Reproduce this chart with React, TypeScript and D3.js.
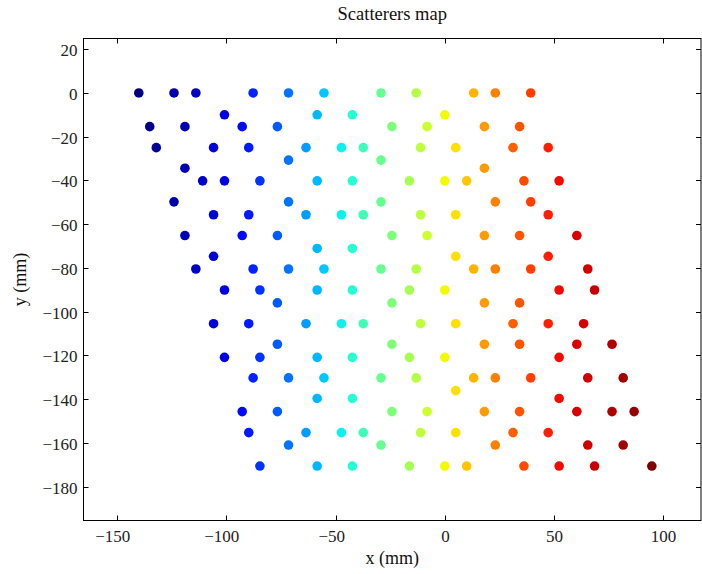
import React from "react";
import * as d3 from "d3";

// ---- data ----
const ROW_Y: number[] = [0, -10, -15.4, -25, -30.7, -34.4, -40.2, -49.8, -55.7, -65.2, -71.1, -74.7, -80.5, -90.1, -96, -105.5, -114.9, -120.9, -130.3, -136.1, -139.7, -145.7, -155.3, -161, -170.6];
const ROW_X: number[][] = [
  [-140, -123.9, -113.9, -87.7, -71.5, -55.3, -29.2, -13.1, 13.2, 23.1, 39.3],
  [-100.8, -58.4, -42.3, 0],
  [-135, -118.9, -92.7, -76.6, -24.2, -8.1, 18.1, 34.2],
  [-132, -105.8, -89.7, -63.5, -47.3, -37.3, -11.1, 5.0, 31.2, 47.3],
  [-71.5, -29.2],
  [-118.9, 18.1],
  [-110.8, -100.8, -84.6, -58.4, -42.3, -16.2, 0, 10.0, 36.2, 52.3],
  [-123.9, -71.5, -29.2, 23.1, 39.3],
  [-105.8, -89.7, -63.5, -47.3, -37.3, -11.1, 5.0, 47.3],
  [-118.9, -92.7, -76.6, -24.2, -8.1, 18.1, 34.2, 60.4],
  [-58.4, -42.3],
  [-105.8, 5.0, 47.3],
  [-113.9, -87.7, -71.5, -55.3, -29.2, -13.1, 13.2, 23.1, 39.3, 65.4],
  [-100.8, -84.6, -58.4, -42.3, -16.2, 0, 52.3, 68.5],
  [-76.6, -24.2, 18.1, 34.2],
  [-105.8, -89.7, -63.5, -47.3, -37.3, -11.1, 5.0, 31.2, 47.3, 63.5],
  [-76.6, -24.2, 18.1, 34.2, 60.4, 76.5],
  [-100.8, -84.6, -58.4, -42.3, -16.2, 0, 52.3],
  [-87.7, -71.5, -55.3, -29.2, -13.1, 13.2, 23.1, 39.3, 65.4, 81.6],
  [5.0],
  [-58.4, -42.3, 52.3],
  [-92.7, -76.6, -24.2, -8.1, 18.1, 34.2, 60.4, 76.5, 86.6],
  [-89.7, -63.5, -47.3, -37.3, -11.1, 5.0, 31.2, 47.3],
  [-71.5, -29.2, 23.1, 65.4, 81.6],
  [-84.6, -58.4, -42.3, -16.2, 0, 10.0, 36.2, 52.3, 68.5, 94.7],
];
const X_TICKS: number[] = [-150, -100, -50, 0, 50, 100];
const Y_TICKS: number[] = [20, 0, -20, -40, -60, -80, -100, -120, -140, -160, -180];
const TITLE = "Scatterers map";
const X_LABEL = "x (mm)";
const Y_LABEL = "y (mm)";

// ---- layout ----
const W = 702, H = 574;
const L = 83.5, R = 701, T = 38.5, B = 520.5;
const FONT = "'Liberation Serif', 'DejaVu Serif', serif";

function seg(pts: [number, number][], t: number) {
  for (let i = 0; i < pts.length - 1; i++) {
    const [x0, y0] = pts[i], [x1, y1] = pts[i + 1];
    if (t <= x1) return y0 + ((t - x0) / (x1 - x0)) * (y1 - y0);
  }
  return pts[pts.length - 1][1];
}
function jet(t: number) {
  const r = seg([[0, 0], [0.35, 0], [0.66, 1], [0.89, 1], [1, 0.5]], t);
  const g = seg([[0, 0], [0.125, 0], [0.375, 1], [0.64, 1], [0.91, 0], [1, 0]], t);
  const b = seg([[0, 0.5], [0.11, 1], [0.34, 1], [0.65, 0], [1, 0]], t);
  return d3.rgb(r * 255, g * 255, b * 255).formatHex();
}

export default function App() {
  const x = d3.scaleLinear().domain([-165.3, 117.2]).range([L, R]);
  const y = d3.scaleLinear().domain([-195.5, 24.9]).range([B, T]);
  const cval = d3
    .scaleLinear()
    .domain([-140, -100.8, -89.7, -71.5, -47.3, -29.2, 0, 23.1, 52.3, 94.7])
    .range([0, 0.088, 0.15, 0.2375, 0.3625, 0.474, 0.645, 0.775, 0.9, 1])
    .clamp(true);

  const pts: { x: number; y: number }[] = [];
  ROW_Y.forEach((yy, i) => ROW_X[i].forEach((xx) => pts.push({ x: xx, y: yy })));

  const fs = 17;
  const tickLen = 5;

  const fmt = (v: number) => (v < 0 ? "\u2212" + Math.abs(v) : String(v));
  const nDig = (v: number) => String(Math.abs(v)).length;

  return (
    <svg width={W} height={H} style={{ position: "absolute", left: 0, top: 0, background: "#fff" }}>
      <rect x={0} y={0} width={W} height={H} fill="#fff" />
      {pts.map((p, i) => (
        <circle key={i} cx={x(p.x)} cy={y(p.y)} r={4.8} fill={jet(cval(p.x))} />
      ))}
      {/* frame */}
      <rect x={L} y={T} width={R - L} height={B - T} fill="none" stroke="#000" strokeWidth={1} />
      {/* x ticks */}
      {X_TICKS.map((v) => {
        const px = Math.round(x(v)) + 0.5;
        return (
          <g key={"x" + v}>
            <line x1={px} x2={px} y1={B} y2={B - tickLen} stroke="#000" />
            <line x1={px} x2={px} y1={T} y2={T + tickLen} stroke="#000" />
            <text x={px + (nDig(v) * fs * 0.5) / 2} y={542} textAnchor="end" fontFamily={FONT} fontSize={fs} fill="#222">
              {fmt(v)}
            </text>
          </g>
        );
      })}
      {/* y ticks */}
      {Y_TICKS.map((v) => {
        const py = Math.round(y(v)) + 0.5;
        return (
          <g key={"y" + v}>
            <line x1={L} x2={L + tickLen} y1={py} y2={py} stroke="#000" />
            <line x1={R} x2={R - tickLen} y1={py} y2={py} stroke="#000" />
            <text x={L - 6} y={py + 6} textAnchor="end" fontFamily={FONT} fontSize={fs} fill="#222">
              {fmt(v)}
            </text>
          </g>
        );
      })}
      <text x={(L + R) / 2} y={20} textAnchor="middle" fontFamily={FONT} fontSize={18.5} fill="#111">
        {TITLE}
      </text>
      <text x={(L + R) / 2} y={564} textAnchor="middle" fontFamily={FONT} fontSize={18} fill="#111">
        {X_LABEL}
      </text>
      <text
        transform={`translate(26,${(T + B) / 2}) rotate(-90)`}
        textAnchor="middle"
        fontFamily={FONT}
        fontSize={18}
        fill="#111"
      >
        {Y_LABEL}
      </text>
    </svg>
  );
}
